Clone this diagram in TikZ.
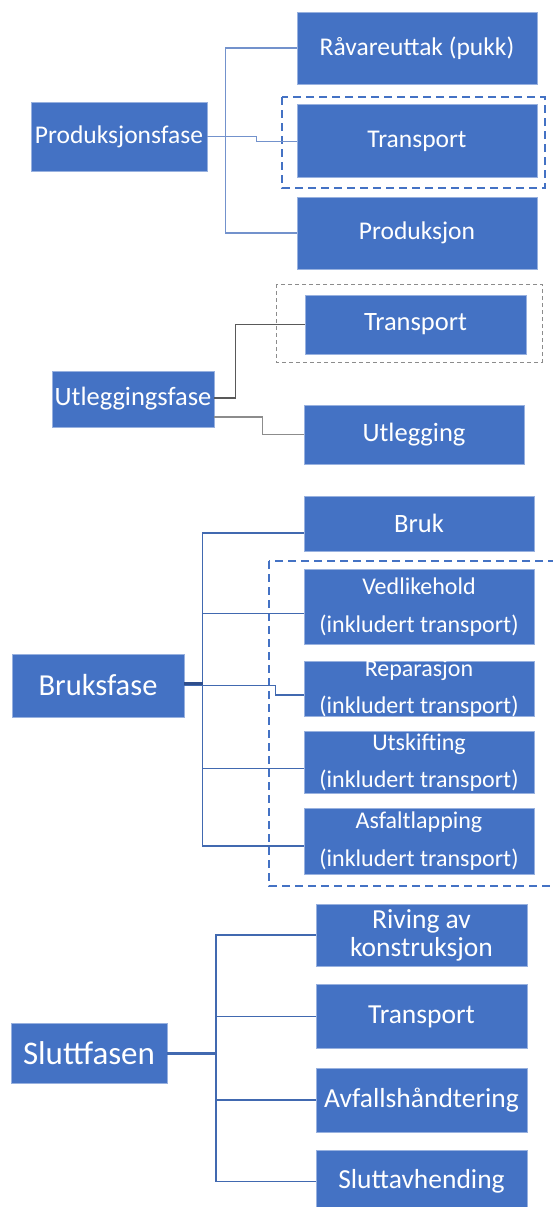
\documentclass[tikz,border=0pt]{standalone}
\definecolor{BoxBlue}{HTML}{4472C4}
\definecolor{LinkBlue}{HTML}{7392CC}
\definecolor{TrunkBlue}{HTML}{4169B0}
\definecolor{StubBlue}{HTML}{2F4E8C}
\definecolor{DarkGray}{HTML}{595959}
\definecolor{MidGray}{HTML}{8C8C8C}
\usepackage{fontspec}
\setmainfont{Carlito}
\usepackage{tikz}
\usetikzlibrary{positioning}

\begin{document}
\begin{tikzpicture}[x=1pt,y=-1pt,
        phasebox/.style={fill=BoxBlue,draw=BoxBlue!55!white,line width=0.5pt,
                     text=white,inner sep=0pt,align=center},
        incltext/.style={text=white,inner sep=0pt,align=center,
                     font=\fontsize{24}{37.5}\selectfont},
        dashframe/.style={draw=BoxBlue,line width=1.8pt,dash pattern=on 8pt off 5pt},
        grayframe/.style={draw=MidGray,line width=0.8pt,dash pattern=on 4pt off 3pt},
        prodlink/.style={draw=LinkBlue,line width=1.3pt},
        graylink/.style={line width=1.4pt},
        bruklink/.style={draw=TrunkBlue,line width=1.3pt},
        endlink/.style={draw=TrunkBlue,line width=1.8pt}]
        \useasboundingbox (0,0) rectangle (552,1207);

        % Produksjonsfase
        \node[phasebox,minimum width=176pt,minimum height=69pt,
              font=\fontsize{25.5}{30}\selectfont] (prodfase) at (119,136.5) {Produksjonsfase};
        \node[phasebox,minimum width=240pt,minimum height=72pt,
              font=\fontsize{25.5}{30}\selectfont] (raa) at (417,48) {Råvareuttak (pukk)};
        \node[phasebox,minimum width=240pt,minimum height=73pt,below=20pt of raa,
              font=\fontsize{25.5}{30}\selectfont] (trans1) {Transport};
        \node[phasebox,minimum width=240pt,minimum height=72pt,below=19pt of trans1,
              font=\fontsize{25.5}{30}\selectfont] (prod) {Produksjon};
        \draw[dashframe] (282,97) rectangle (545,188);
        \draw[prodlink] (raa.west) -- ++(-71,0) |- (prod.west);
        \draw[prodlink] (prodfase.east) -- ++(49,0) |- ([yshift=-0.5pt]trans1.west);

        % Utleggingsfase
        \node[phasebox,minimum width=162pt,minimum height=56pt,
              font=\fontsize{26.5}{30}\selectfont] (utfase) at (133,399) {Utleggingsfase};
        \node[phasebox,minimum width=221pt,minimum height=59pt,
              font=\fontsize{26.5}{30}\selectfont] (trans2) at (415.5,324.5) {Transport};
        \node[phasebox,minimum width=220pt,minimum height=59pt,
              font=\fontsize{26.5}{30}\selectfont] (utlegg) at (414,434.5) {Utlegging};
        \draw[grayframe] (276,284) rectangle (542,362);
        \draw[graylink,DarkGray] ([yshift=1pt]utfase.east) -- ++(21,0) |- (trans2.west);
        \draw[graylink,MidGray] ([yshift=-18pt]utfase.east) -- ++(48,0) |- (utlegg.west);

        % Bruksfase
        \node[phasebox,minimum width=172pt,minimum height=63pt,
              font=\fontsize{30.5}{34}\selectfont] (bruksfase) at (98,685.5) {Bruksfase};
        \node[phasebox,minimum width=230pt,minimum height=55pt,
              font=\fontsize{26.5}{30}\selectfont] (bruk) at (419,523.5) {Bruk};
        \node[phasebox,minimum width=230pt,minimum height=75pt,below=18pt of bruk] (vedl) {};
        \node[phasebox,minimum width=230pt,minimum height=55pt,below=16pt of vedl] (rep) {};
        \node[phasebox,minimum width=230pt,minimum height=62pt,below=15pt of rep] (utsk) {};
        \node[phasebox,minimum width=230pt,minimum height=66pt,below=14pt of utsk] (asf) {};
        \node[incltext] (vedlt) at (vedl) {Vedlikehold\\(inkludert transport)};
        \node[incltext] (rept) at (rep) {Reparasjon\\(inkludert transport)};
        \node[incltext] (utskt) at (utsk) {Utskifting\\(inkludert transport)};
        \node[incltext] (asft) at (asf) {Asfaltlapping\\(inkludert transport)};
        \draw[dashframe] (269,561) rectangle (562,886);
        \draw[bruklink] ([yshift=-9.5pt]bruk.west) -- ++(-101,0) |- ([yshift=-5pt]asf.west);
        \foreach \n/\s in {vedl/-6.5,utsk/-6}{
          \draw[bruklink] ([yshift=\s pt]\n.west) -- ++(-101,0);
        }
        \draw[bruklink] (bruksfase.east) -- ++(91,0) |- ([yshift=-6.5pt]rep.west);
        \draw[bruklink,StubBlue,line width=2.4pt] ([yshift=2pt]bruksfase.east) -- ++(19,0);

        % Sluttfasen
        \node[phasebox,minimum width=156pt,minimum height=60pt,
              font=\fontsize{33}{36}\selectfont] (slutt) at (89,1053) {Sluttfasen};
        \node[phasebox,minimum width=211pt,minimum height=62pt,
              font=\fontsize{27.5}{28}\selectfont] (riv) at (421.5,935) {Riving av\\konstruksjon};
        \node[phasebox,minimum width=211pt,minimum height=64pt,below=18pt of riv,
              font=\fontsize{27.5}{30}\selectfont] (trans4) {Transport};
        \node[phasebox,minimum width=211pt,minimum height=64pt,below=19pt of trans4,
              font=\fontsize{27.5}{30}\selectfont] (avf) {Avfallshåndtering};
        \node[phasebox,minimum width=211pt,minimum height=62pt,below=18pt of avf,
              font=\fontsize{27.5}{30}\selectfont] (sluttavh) {Sluttavhending};
        \draw[endlink] (riv.west) -- ++(-100,0) |- (sluttavh.west);
        \foreach \n in {trans4,avf}{
          \draw[endlink] (\n.west) -- ++(-100,0);
        }
        \draw[endlink,line width=3pt] (slutt.east) -- ++(49,0);
      \end{tikzpicture}
\end{document}
